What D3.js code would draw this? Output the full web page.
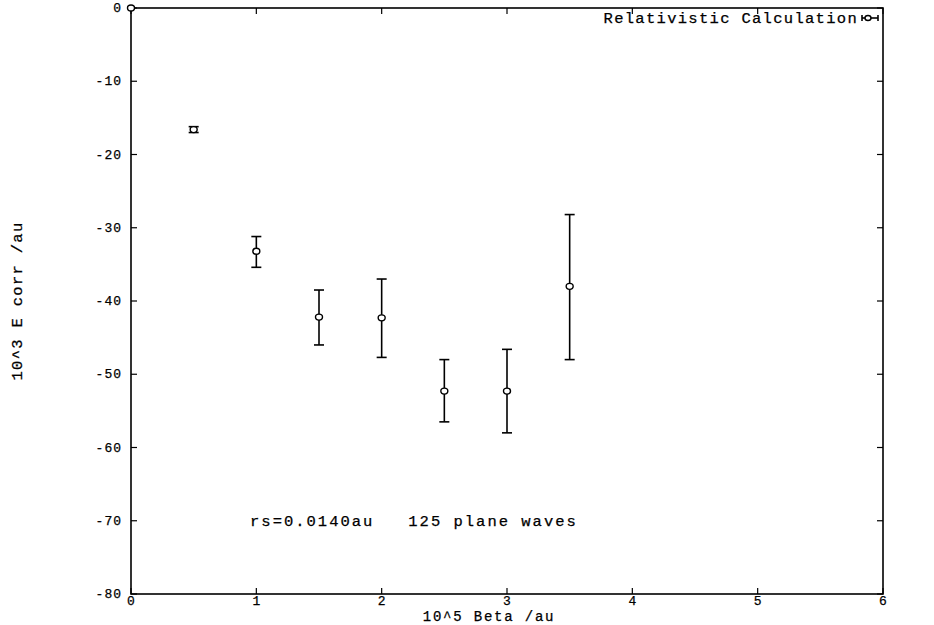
<!DOCTYPE html>
<html lang="en">
<head>
    <meta charset="UTF-8">
    <title>E corr vs Beta</title>
    <style>
        body { margin: 0; background: #fff; }
        text { font-family: "Liberation Mono", "DejaVu Sans Mono", monospace; fill: #000; stroke: #000; stroke-width: 0.25px; }
        .lab { font-size: 15.5px; letter-spacing: 1.3px; }
        .xt { font-size: 14px; letter-spacing: 1.8px; }
        .tl { font-size: 13px; letter-spacing: 1px; }
        .frame { fill: none; stroke: #000; stroke-width: 1.6px; }
        .tick { stroke: #000; stroke-width: 1.2px; }
        .err { stroke: #000; stroke-width: 1.6px; fill: none; }
        .pt { fill: #fff; stroke: #000; stroke-width: 1.4px; }
    </style>
</head>
<body>
<script src="https://d3js.org/d3.v7.min.js"></script>
<script>
    // data
    const beta = [0, 0.5, 1, 1.5, 2, 2.5, 3, 3.5];
    const ecorr = [0, -16.6, -33.2, -42.2, -42.3, -52.3, -52.3, -38.0];
    const errLow = [0, -17.0, -35.4, -46.0, -47.7, -56.5, -58.0, -48.0];
    const errHigh = [0, -16.2, -31.2, -38.5, -37.0, -48.0, -46.6, -28.2];
    const xTicks = [0, 1, 2, 3, 4, 5, 6];
    const yTicks = [0, -10, -20, -30, -40, -50, -60, -70, -80];

    const width = 934, height = 625;
    const margin = {left: 131, right: 51, top: 8, bottom: 31};

    const x = d3.scaleLinear().domain([0, 6]).range([margin.left, width - margin.right]);
    const y = d3.scaleLinear().domain([-80, 0]).range([height - margin.bottom, margin.top]);

    const svg = d3.select('body').append('svg')
        .attr('width', width)
        .attr('height', height);

    // ticks on all four sides, pointing in
    const tk = 6;
    svg.selectAll('line.xb').data(xTicks).join('line')
        .attr('class', 'tick')
        .attr('x1', d => x(d)).attr('x2', d => x(d))
        .attr('y1', y(-80)).attr('y2', y(-80) - tk);
    svg.selectAll('line.xt').data(xTicks).join('line')
        .attr('class', 'tick')
        .attr('x1', d => x(d)).attr('x2', d => x(d))
        .attr('y1', y(0)).attr('y2', y(0) + tk);
    svg.selectAll('line.yl').data(yTicks).join('line')
        .attr('class', 'tick')
        .attr('x1', x(0)).attr('x2', x(0) + tk)
        .attr('y1', d => y(d)).attr('y2', d => y(d));
    svg.selectAll('line.yr').data(yTicks).join('line')
        .attr('class', 'tick')
        .attr('x1', x(6)).attr('x2', x(6) - tk)
        .attr('y1', d => y(d)).attr('y2', d => y(d));

    svg.append('rect').attr('class', 'frame')
        .attr('x', x(0)).attr('y', y(0))
        .attr('width', x(6) - x(0)).attr('height', y(-80) - y(0));

    // tick labels
    svg.selectAll('text.xl').data(xTicks).join('text')
        .attr('class', 'tl')
        .attr('x', d => x(d) + 0.5).attr('y', y(-80) + 11)
        .attr('text-anchor', 'middle')
        .text(d => d);
    svg.selectAll('text.yl').data(yTicks).join('text')
        .attr('class', 'tl')
        .attr('x', x(0) - 9).attr('y', d => y(d) + 4)
        .attr('text-anchor', 'end')
        .text(d => d);

    // axis titles
    svg.append('text').attr('class', 'xt')
        .attr('x', (x(0) + x(6)) / 2 - 18).attr('y', height - 4)
        .attr('text-anchor', 'middle')
        .text('10^5 Beta /au');
    svg.append('text').attr('class', 'lab')
        .attr('transform', `translate(22,${(y(0) + y(-80)) / 2}) rotate(-90)`)
        .attr('text-anchor', 'middle')
        .text('10^3 E corr /au');

    // error bars
    const pts = beta.map((b, i) => ({b, v: ecorr[i], lo: errLow[i], hi: errHigh[i]}));
    const cap = 5;
    const g = svg.append('g');
    pts.filter(d => d.hi - d.lo > 0).forEach(d => {
        g.append('line').attr('class', 'err')
            .attr('x1', x(d.b)).attr('x2', x(d.b))
            .attr('y1', y(d.lo)).attr('y2', y(d.hi));
        [d.lo, d.hi].forEach(e => {
            g.append('line').attr('class', 'err')
                .attr('x1', x(d.b) - cap).attr('x2', x(d.b) + cap)
                .attr('y1', y(e)).attr('y2', y(e));
        });
    });
    g.selectAll('ellipse').data(pts).join('ellipse')
        .attr('class', 'pt')
        .attr('cx', d => x(d.b)).attr('cy', d => y(d.v))
        .attr('rx', 3.5).attr('ry', 3);

    // legend
    const lx = x(6) - 21, ly = y(0) + 10;
    svg.append('text').attr('class', 'lab')
        .attr('x', lx - 4).attr('y', ly + 5)
        .attr('text-anchor', 'end')
        .text('Relativistic Calculation');
    svg.append('line').attr('class', 'err')
        .attr('x1', lx).attr('x2', lx + 16).attr('y1', ly).attr('y2', ly);
    [lx, lx + 16].forEach(xx => {
        svg.append('line').attr('class', 'err')
            .attr('x1', xx).attr('x2', xx).attr('y1', ly - 3).attr('y2', ly + 3);
    });
    svg.append('ellipse').attr('class', 'pt')
        .attr('cx', lx + 6).attr('cy', ly).attr('rx', 3).attr('ry', 2.5);

    // annotation
    svg.append('text').attr('class', 'lab')
        .attr('x', x(0.95)).attr('y', y(-70) + 5)
        .attr('xml:space', 'preserve')
        .style('white-space', 'pre')
        .style('letter-spacing', '2px')
        .text('rs=0.0140au   125 plane waves');
</script>
</body>
</html>
